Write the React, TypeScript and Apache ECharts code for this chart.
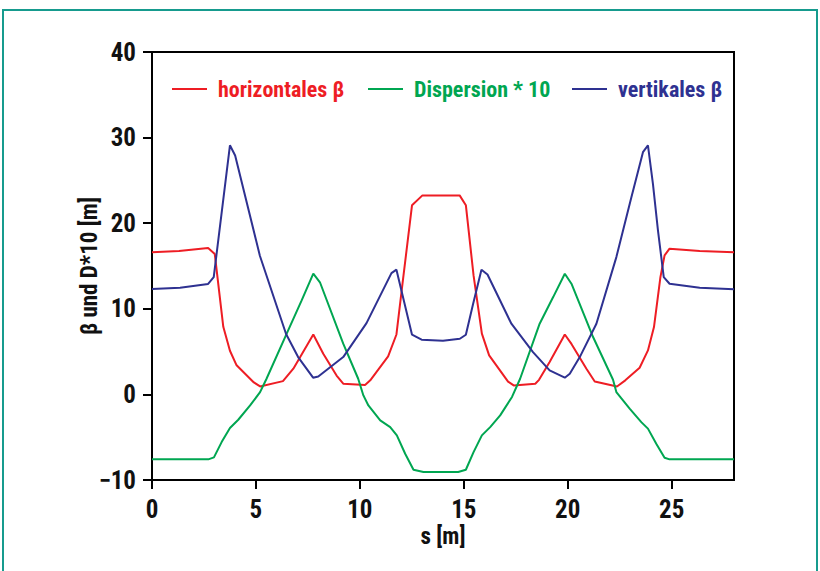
import React, { useEffect, useRef } from "react";
import * as echarts from "echarts";

// horizontales beta
const sH = [0, 1.3, 2.7, 3.02, 3.43, 3.75, 4.07, 4.9, 5.2, 6.3, 6.8, 7.76, 8.24, 8.88, 9.2, 10.25, 10.5, 11.36, 11.76, 12.05, 12.51, 13.01, 14.8, 15.1, 15.47, 15.87, 16.22, 17.13, 17.4, 18.44, 18.62, 19.13, 19.86, 20.18, 20.9, 21.3, 22.37, 22.77, 23.46, 23.86, 24.15, 24.46, 24.66, 24.9, 26.35, 28];
const vH = [16.6, 16.75, 17.1, 16.4, 7.9, 5.1, 3.4, 1.4, 0.93, 1.55, 3.0, 7.0, 4.75, 2.2, 1.25, 1.1, 1.65, 4.44, 7.0, 12.9, 22.1, 23.25, 23.25, 22.1, 13.9, 7.1, 4.56, 1.5, 1.05, 1.25, 1.7, 3.78, 7.0, 5.9, 3.0, 1.5, 0.93, 1.64, 3.11, 5.14, 7.86, 13.7, 16.24, 17.02, 16.74, 16.6];

// Dispersion * 10
const sD = [0, 2.71, 2.98, 3.35, 3.75, 4.15, 4.72, 5.2, 5.51, 6.48, 7.2, 7.76, 8.08, 9.2, 9.92, 10.17, 10.41, 10.98, 11.46, 11.78, 12.18, 12.58, 13.06, 14.73, 15.1, 15.47, 15.87, 16.27, 16.75, 17.32, 17.71, 18.65, 19.3, 19.86, 20.18, 21.22, 22.18, 22.34, 22.98, 23.54, 23.86, 24.26, 24.66, 24.9, 28];
const vD = [-7.59, -7.59, -7.36, -5.57, -3.93, -2.96, -1.29, 0.27, 1.83, 7.09, 10.98, 14.1, 13.1, 5.92, 1.83, -0.12, -1.29, -3.04, -3.82, -4.79, -6.93, -8.8, -9.07, -9.07, -8.8, -6.74, -4.79, -3.82, -2.45, -0.3, 1.83, 8.26, 11.37, 14.1, 12.93, 6.7, 1.71, 0.27, -1.67, -3.24, -4.0, -5.76, -7.4, -7.59, -7.59];

// vertikales beta
const sV = [0, 1.35, 2.7, 2.97, 3.75, 4.0, 5.19, 6.45, 7.03, 7.75, 8.0, 9.2, 10.32, 11.52, 11.76, 12.51, 12.97, 14.0, 14.81, 15.1, 15.45, 15.85, 16.14, 17.29, 18.33, 19.13, 19.86, 20.1, 20.58, 21.38, 22.34, 23.06, 23.62, 23.86, 24.1, 24.34, 24.62, 24.9, 26.35, 28];
const vV = [12.3, 12.46, 12.9, 13.7, 29.1, 27.9, 16.2, 7.05, 4.36, 1.95, 2.1, 4.36, 8.33, 14.17, 14.57, 6.97, 6.39, 6.27, 6.5, 6.97, 10.6, 14.57, 14.0, 8.26, 4.94, 2.8, 1.95, 2.42, 4.36, 8.26, 16.04, 23.0, 28.3, 29.09, 24.6, 19.2, 13.7, 12.93, 12.46, 12.27];

const xTicks = [0, 5, 10, 15, 20, 25];
const yTicks = [-10, 0, 10, 20, 30, 40];
const seriesNames = ["horizontales β", "Dispersion * 10", "vertikales β"];
const seriesColors = ["#ee1d24", "#00a651", "#2e3191"];
const legendLeft = [167, 363, 567];

const FONT = "Roboto";

const zip = (s: number[], v: number[]) => s.map((x, i) => [x, v[i]]);

export default function App() {
  const ref = useRef<HTMLDivElement>(null);
  useEffect(() => {
    document.body.style.margin = "0";
    const chart = echarts.init(ref.current!, null, { renderer: "svg" });
    const data = [zip(sH, vH), zip(sD, vD), zip(sV, vV)];
    chart.setOption({
      animation: false,
      backgroundColor: "#fff",
      textStyle: { fontFamily: FONT },
      grid: { left: 152, right: 86, top: 52, bottom: 91, show: true, borderColor: "#000", borderWidth: 2, backgroundColor: "transparent" },
      legend: seriesNames.map((n, i) => ({
        left: legendLeft[i],
        top: 73,
        icon: "rect",
        itemWidth: 35,
        itemHeight: 2,
        data: [{ name: n, textStyle: { color: seriesColors[i] } }],
        textStyle: { fontFamily: FONT, fontWeight: "bold", fontSize: 22, padding: [0, 0, 0, 6] },
      })),
      graphic: [
        { type: "rect", shape: { x: 3, y: 10, width: 814, height: 600 }, style: { fill: "none", stroke: "#169b8e", lineWidth: 2 }, silent: true },
      ],
      xAxis: {
        type: "value",
        min: 0,
        max: 28,
        interval: 5,
        name: "s [m]",
        nameLocation: "middle",
        nameGap: 45,
        nameMoveOverlap: false,
        nameTextStyle: { fontFamily: FONT, fontWeight: "bold", fontSize: 23, color: "#111" },
        axisLine: { show: true, onZero: false, lineStyle: { color: "#000", width: 2 } },
        axisTick: { show: true, length: 9, lineStyle: { color: "#000", width: 2 }, customValues: xTicks },
        axisLabel: { margin: 17, fontFamily: FONT, fontWeight: "bold", fontSize: 25, color: "#111", customValues: xTicks },
        splitLine: { show: false },
      },
      yAxis: {
        type: "value",
        min: -10,
        max: 40,
        interval: 10,
        name: "β und D*10 [m]",
        nameLocation: "middle",
        nameRotate: 90,
        nameGap: 51,
        nameMoveOverlap: false,
        nameTextStyle: { fontFamily: FONT, fontWeight: "bold", fontSize: 23, color: "#111" },
        axisLine: { show: true, onZero: false, lineStyle: { color: "#000", width: 2 } },
        axisTick: { show: true, length: 9, lineStyle: { color: "#000", width: 2 }, customValues: yTicks },
        axisLabel: {
          margin: 16,
          fontFamily: FONT,
          fontWeight: "bold",
          fontSize: 25,
          color: "#111",
          customValues: yTicks,
          formatter: (v: number) => (v < 0 ? "\u2212" + Math.abs(v) : String(v)),
        },
        splitLine: { show: false },
      },
      series: data.map((d, i) => ({
        name: seriesNames[i],
        type: "line",
        data: d,
        showSymbol: false,
        symbol: "none",
        lineStyle: { color: seriesColors[i], width: 2 },
        itemStyle: { color: seriesColors[i] },
      })),
    });
    return () => chart.dispose();
  }, []);
  return (
    <>
      <style>{"#chartbox svg text { font-stretch: 75% !important; }"}</style>
      <div id="chartbox" ref={ref} style={{ width: 820, height: 571, position: "absolute", left: 0, top: 0 }} />
    </>
  );
}
